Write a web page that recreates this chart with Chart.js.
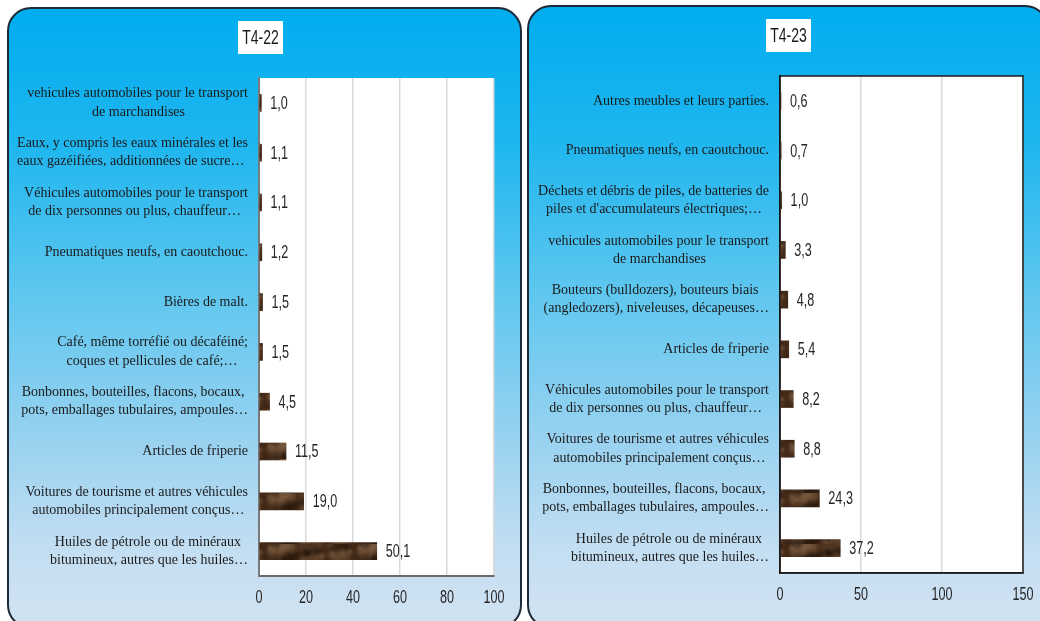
<!DOCTYPE html>
<html>
<head>
<meta charset="utf-8">
<script src="https://cdn.jsdelivr.net/npm/chart.js@4.4.1/dist/chart.umd.min.js"></script>
<style>
  html, body { margin: 0; padding: 0; background: #ffffff; width: 1040px; height: 621px; overflow: hidden; }
  .panel {
    position: absolute; box-sizing: border-box;
    border: 2px solid #1d2a38; border-radius: 24px;
    background: linear-gradient(to bottom, #00adef 0%, #1fb6ef 22%, #5cc6ef 45%, #9ed3f0 72%, #c4def2 88%, #d2e3f2 100%);
  }
  #p1 { left: 7px; top: 7px; width: 515px; height: 622px; }
  #p2 { left: 527px; top: 5px; width: 522px; height: 624px; }
  .wrap { position: absolute; top: 0; height: 621px; }
  #w1 { left: 0; width: 522px; }
  #w2 { left: 522px; width: 518px; }
</style>
</head>
<body>
<div class="panel" id="p1"></div>
<div class="panel" id="p2"></div>
<div class="wrap" id="w1"><canvas id="c1"></canvas></div>
<div class="wrap" id="w2"><canvas id="c2"></canvas></div>
<script>
// ---------- DATA ----------
const title22 = "T4-22";
const categories22 = [
  ["vehicules automobiles pour le transport", "de marchandises"],
  ["Eaux, y compris les eaux minérales et les", "eaux gazéifiées, additionnées de sucre…"],
  ["Véhicules automobiles pour le transport", "de dix personnes ou plus, chauffeur…"],
  ["Pneumatiques neufs, en caoutchouc."],
  ["Bières de malt."],
  ["Café, même torréfié ou décaféiné;", "coques et pellicules de café;…"],
  ["Bonbonnes, bouteilles, flacons, bocaux,", "pots, emballages tubulaires, ampoules…"],
  ["Articles de friperie"],
  ["Voitures de tourisme et autres véhicules", "automobiles principalement conçus…"],
  ["Huiles de pétrole ou de minéraux", "bitumineux, autres que les huiles…"]
];
const values22 = [1.0, 1.1, 1.1, 1.2, 1.5, 1.5, 4.5, 11.5, 19.0, 50.1];
const ticks22 = [0, 20, 40, 60, 80, 100];

const title23 = "T4-23";
const categories23 = [
  ["Autres meubles et leurs parties."],
  ["Pneumatiques neufs, en caoutchouc."],
  ["Déchets et débris de piles, de batteries de", "piles et d'accumulateurs électriques;…"],
  ["vehicules automobiles pour le transport", "de marchandises"],
  ["Bouteurs (bulldozers), bouteurs biais", "(angledozers), niveleuses, décapeuses…"],
  ["Articles de friperie"],
  ["Véhicules automobiles pour le transport", "de dix personnes ou plus, chauffeur…"],
  ["Voitures de tourisme et autres véhicules", "automobiles principalement conçus…"],
  ["Bonbonnes, bouteilles, flacons, bocaux,", "pots, emballages tubulaires, ampoules…"],
  ["Huiles de pétrole ou de minéraux", "bitumineux, autres que les huiles…"]
];
const values23 = [0.6, 0.7, 1.0, 3.3, 4.8, 5.4, 8.2, 8.8, 24.3, 37.2];
const ticks23 = [0, 50, 100, 150];

// ---------- HELPERS ----------
const SERIF = '"Liberation Serif", "Times New Roman", serif';
const SANS = '"Liberation Sans", Arial, sans-serif';
const SQUEEZE = 0.7;   // horizontal compression for the narrow sans text

const mctx = document.createElement('canvas').getContext('2d');
mctx.font = '14px ' + SERIF;
function centerLines(lines) {
  if (lines.length < 2) return lines[0];
  const sp = mctx.measureText(' ').width;
  const ws = lines.map(l => mctx.measureText(l).width);
  const maxW = Math.max(...ws);
  return lines.map((l, i) => l + ' '.repeat(Math.round((maxW - ws[i]) / 2 / sp)));
}

function narrowText(ctx, text, x, y, size, align) {
  ctx.save();
  ctx.font = size + 'px ' + SANS;
  ctx.textBaseline = 'middle';
  ctx.textAlign = align;
  ctx.translate(x, y);
  ctx.scale(SQUEEZE, 1);
  ctx.fillText(text, 0, 0);
  ctx.restore();
}

function makeTexture(ctx) {
  const c = document.createElement('canvas');
  c.width = 90; c.height = 17;
  const g = c.getContext('2d');
  g.fillStyle = '#432a18';
  g.fillRect(0, 0, c.width, c.height);
  const blobs = 46;
  for (let i = 0; i < blobs; i++) {
    const x = (i * 23 + (i % 4) * 7) % 90;
    const y = (i * 7 + 3) % 17;
    const r = 4 + (i * 5) % 7;
    const kind = i % 3;
    const col = kind === 0 ? '138,104,74' : (kind === 1 ? '28,15,6' : '104,74,50');
    const a = kind === 1 ? 0.55 : 0.5;
    for (const dx of [-90, 0, 90]) {
      const rg = g.createRadialGradient(x + dx, y, 0, x + dx, y, r);
      rg.addColorStop(0, 'rgba(' + col + ',' + a + ')');
      rg.addColorStop(1, 'rgba(' + col + ',0)');
      g.fillStyle = rg;
      g.fillRect(x + dx - r, y - r, 2 * r, 2 * r);
    }
  }
  return ctx.createPattern(c, 'repeat');
}

const plotBg = {
  id: 'plotBg',
  beforeDraw(chart) {
    const { ctx, chartArea: a } = chart;
    ctx.save();
    ctx.fillStyle = '#ffffff';
    ctx.fillRect(a.left, a.top, a.right - a.left, a.bottom - a.top);
    ctx.restore();
  }
};

const titleBox = {
  id: 'titleBox',
  afterDraw(chart, args, opts) {
    const { ctx } = chart;
    ctx.save();
    ctx.fillStyle = '#ffffff';
    ctx.fillRect(opts.x, opts.y, opts.w, opts.h);
    ctx.fillStyle = '#1a1a1a';
    narrowText(ctx, opts.text, opts.x + opts.w / 2, opts.y + opts.h / 2 + 1, 20, 'center');
    ctx.restore();
  }
};

const valueLabels = {
  id: 'valueLabels',
  afterDatasetsDraw(chart) {
    const { ctx } = chart;
    const meta = chart.getDatasetMeta(0);
    const data = chart.data.datasets[0].data;
    ctx.save();
    ctx.fillStyle = '#262626';
    meta.data.forEach((bar, i) => {
      narrowText(ctx, data[i].toFixed(1).replace('.', ','), bar.x + 9, bar.y + 1, 18, 'left');
    });
    ctx.restore();
  }
};

const xTickLabels = {
  id: 'xTickLabels',
  afterDraw(chart) {
    const { ctx, chartArea: a } = chart;
    const sx = chart.scales.x;
    ctx.save();
    ctx.fillStyle = '#262626';
    sx.ticks.forEach(t => {
      narrowText(ctx, String(t.value), sx.getPixelForValue(t.value), a.bottom + 22, 18, 'center');
    });
    ctx.restore();
  }
};

const plotBorder = {
  id: 'plotBorder',
  afterDraw(chart, args, opts) {
    if (!opts.on) return;
    const { ctx, chartArea: a } = chart;
    ctx.save();
    ctx.strokeStyle = '#1a1a1a';
    ctx.lineWidth = 1.5;
    ctx.strokeRect(a.left, a.top, a.right - a.left, a.bottom - a.top);
    ctx.restore();
  }
};

function build(canvasId, cats, vals, ticks, title, geo) {
  const canvas = document.getElementById(canvasId);
  const ctx = canvas.getContext('2d');
  const tex = makeTexture(ctx);
  return new Chart(ctx, {
    type: 'bar',
    data: {
      labels: cats.map(centerLines),
      datasets: [{
        data: vals,
        backgroundColor: tex,
        borderWidth: 0,
        barThickness: 17
      }]
    },
    options: {
      indexAxis: 'y',
      responsive: true,
      maintainAspectRatio: false,
      animation: false,
      layout: { padding: { left: 0, top: geo.top, right: geo.right, bottom: geo.bottom } },
      plugins: {
        legend: { display: false },
        tooltip: { enabled: false },
        title: { display: false },
        titleBox: { text: title, x: geo.tx, y: geo.ty, w: 45, h: 33 },
        plotBorder: { on: geo.border }
      },
      scales: {
        x: {
          min: ticks[0], max: ticks[ticks.length - 1],
          afterBuildTicks(scale) { scale.ticks = ticks.map(v => ({ value: v })); },
          afterFit(scale) { scale.height = 30; },
          grid: { color: '#d9d9d9', lineWidth: 1.5, drawTicks: false },
          border: { display: true, color: geo.border ? '#1a1a1a' : '#6b6b6b', width: geo.border ? 1.5 : 2 },
          ticks: { display: false }
        },
        y: {
          afterFit(scale) { scale.width = geo.yw; },
          grid: { display: false, drawTicks: false },
          border: { display: true, color: geo.border ? '#1a1a1a' : '#7a7a7a', width: geo.border ? 1.5 : 2 },
          ticks: { color: '#1a1a1a', font: { family: SERIF, size: 14, lineHeight: 1.3 }, padding: 11, autoSkip: false }
        }
      }
    },
    plugins: [plotBg, valueLabels, xTickLabels, titleBox, plotBorder]
  });
}

build('c1', categories22, values22, ticks22, title22,
  { top: 78, right: 28, bottom: 15, yw: 259, tx: 238, ty: 21, border: false });
build('c2', categories23, values23, ticks23, title23,
  { top: 76, right: 17, bottom: 18, yw: 258, tx: 244, ty: 19, border: true });
</script>
</body>
</html>
